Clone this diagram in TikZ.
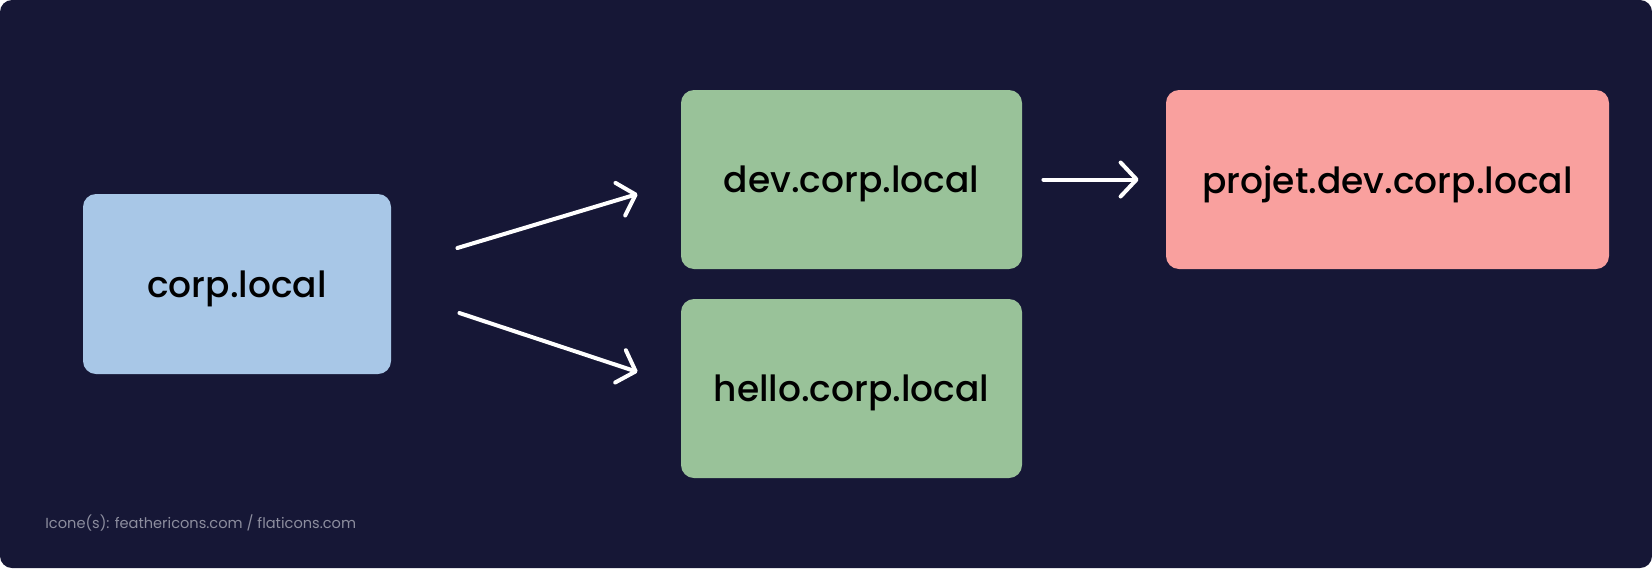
\documentclass[tikz,border=0pt]{standalone}
\usepackage{fontspec}
\setmainfont{Poppins}
\newfontfamily\boxfont{Poppins Medium}
\usetikzlibrary{arrows.meta}
\definecolor{bgnavy}{RGB}{22,23,54}
\definecolor{rootblue}{RGB}{168,199,231}
\definecolor{subgreen}{RGB}{153,194,153}
\definecolor{leafred}{RGB}{249,160,158}
\definecolor{footgray}{RGB}{140,141,158}

\begin{document}
\begin{tikzpicture}[x=0.5pt,y=-0.5pt,line cap=round,line join=round,
  dombox/.style={rounded corners=6.5pt,inner sep=0pt,text depth=0pt,text=black,font=\boxfont\fontsize{18}{20}\selectfont},
  link/.style={draw=white,line width=2pt,-{Straight Barb[length=8pt,width=17pt,round]}}]
\useasboundingbox (0,0) rectangle (1652,568);
\fill[bgnavy,rounded corners=6pt] (0,0) rectangle (1652,568);
% domains
\node[dombox,fill=rootblue,minimum width=154pt,minimum height=90pt] (corp) at (237,284) {corp.local};
\node[dombox,fill=subgreen,minimum width=170.5pt,minimum height=89.5pt] (dev) at (851.5,179.5) {dev.corp.local};
\node[dombox,fill=subgreen,minimum width=170.5pt,minimum height=89.5pt] (hello) at (851.5,388.5) {hello.corp.local};
\node[dombox,fill=leafred,minimum width=221.5pt,minimum height=89.5pt] (projet) at (1387.5,179.5) {projet.dev.corp.local};
% links
\draw[link] ([shift={(33pt,18pt)}]corp.east) -- ([shift={(-21.5pt,-7.25pt)}]dev.west);
\draw[link] ([shift={(34pt,-14.5pt)}]corp.east) -- ([shift={(-21.5pt,8.25pt)}]hello.west);
\draw[link] ([xshift=10.5pt]dev.east) -- ([xshift=-13.5pt]projet.west);
\node[anchor=west,text=footgray,font=\fontsize{7.3}{9}\selectfont,inner sep=0pt] (credit) at (45,523) {Icone(s): feathericons.com / flaticons.com};
\end{tikzpicture}
\end{document}
